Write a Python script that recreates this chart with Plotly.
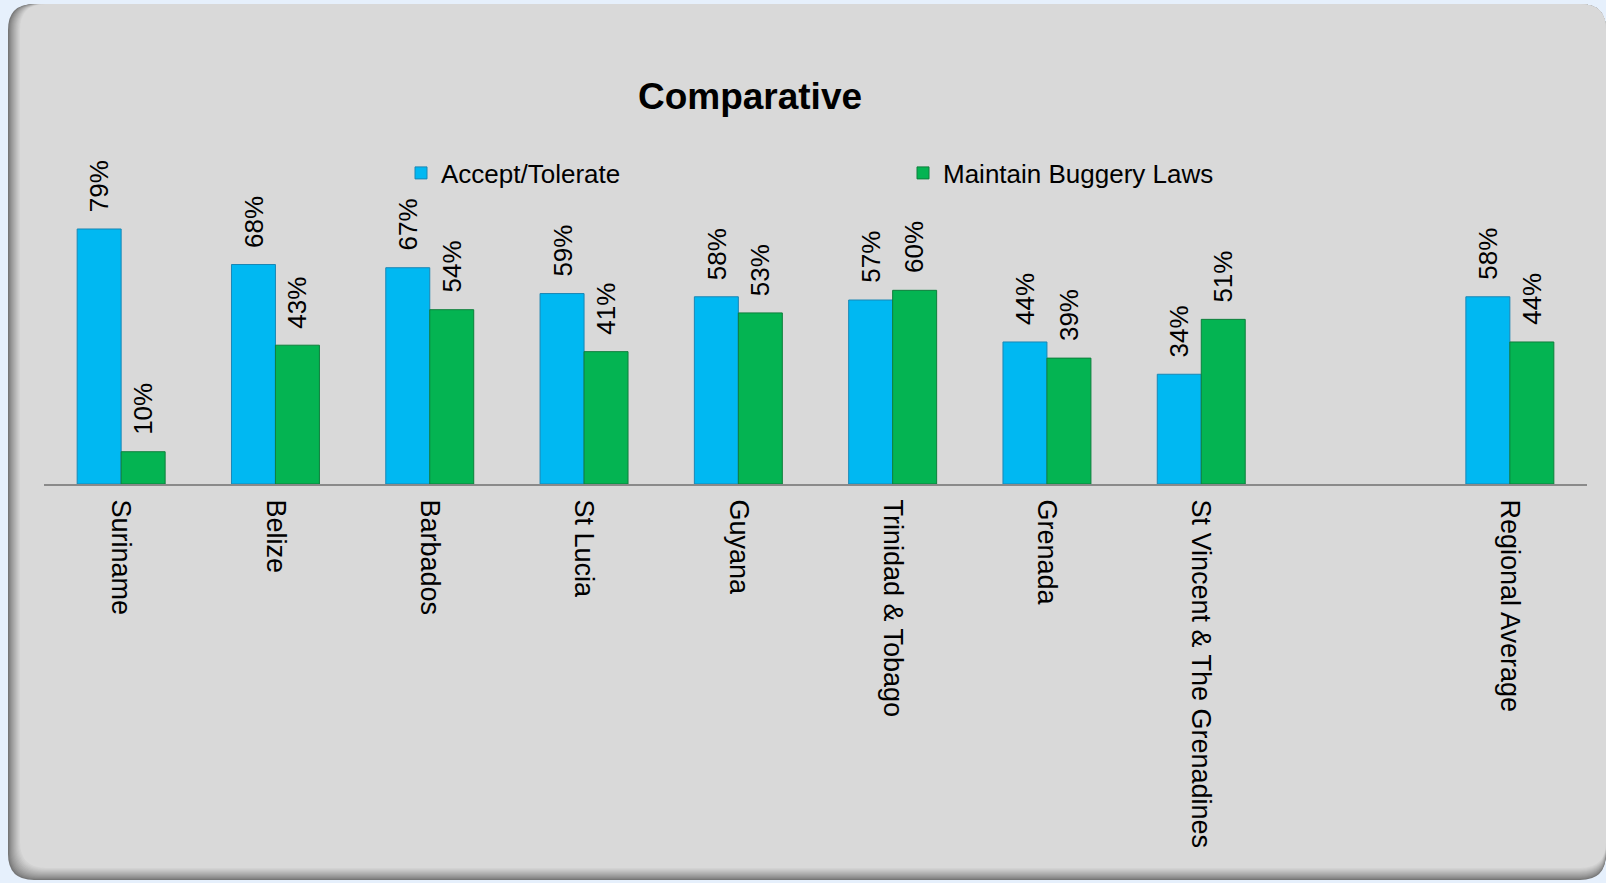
import plotly.graph_objects as go

# data
categories = ["Suriname", "Belize", "Barbados", "St Lucia", "Guyana",
              "Trinidad & Tobago", "Grenada", "St Vincent & The Grenadines",
              " ", "Regional Average"]
accept_tolerate = [79, 68, 67, 59, 58, 57, 44, 34, None, 58]
maintain_laws = [10, 43, 54, 41, 53, 60, 39, 51, None, 44]
series_names = ["Accept/Tolerate", "Maintain Buggery Laws"]

W, H = 1606, 883
L, R, T, B = 44, 19, 150, 399
PW, PH = W - L - R, H - T - B

BLUE, BLUE_EDGE = "#00B8F2", "#1A86B4"
GREEN, GREEN_EDGE = "#04B452", "#0E7F3C"
FONT = "Arial, Liberation Sans, sans-serif"


def px_to_paper(px, py):
    return (px - L) / PW, (H - B - py) / PH


def rounded_rect(x0, y0, x1, y1, r):
    """SVG path (paper units) for a rounded rectangle given in pixels."""
    pts = []

    def p(x, y):
        xp, yp = px_to_paper(x, y)
        return f"{xp:.5f},{yp:.5f}"

    pts.append("M" + p(x0 + r, y0))
    pts.append("L" + p(x1 - r, y0))
    pts.append("Q" + p(x1, y0) + " " + p(x1, y0 + r))
    pts.append("L" + p(x1, y1 - r))
    pts.append("Q" + p(x1, y1) + " " + p(x1 - r, y1))
    pts.append("L" + p(x0 + r, y1))
    pts.append("Q" + p(x0, y1) + " " + p(x0, y1 - r))
    pts.append("L" + p(x0, y0 + r))
    pts.append("Q" + p(x0, y0) + " " + p(x0 + r, y0))
    return " ".join(pts) + " Z"


def lerp_gray(a, b, t):
    v = int(round(a + (b - a) * t))
    return f"rgb({v},{v},{v})"


# panel with a soft shadow on the left and bottom edges
shapes = []
steps = 12
for i in range(steps + 1):
    t = i / steps
    shapes.append(dict(
        type="path", xref="paper", yref="paper", layer="below",
        path=rounded_rect(8 + i * 1.0, 4, 1606, 880 - i * 1.0, 26),
        fillcolor=lerp_gray(118, 217, t ** 0.8), line=dict(width=0),
    ))

fig = go.Figure()
fig.add_trace(go.Bar(
    x=categories, y=accept_tolerate, name=series_names[0],
    marker=dict(color=BLUE, line=dict(color=BLUE_EDGE, width=1)),
))
fig.add_trace(go.Bar(
    x=categories, y=maintain_laws, name=series_names[1],
    marker=dict(color=GREEN, line=dict(color=GREEN_EDGE, width=1)),
))

# rotated value labels above each bar
annotations = []
for vals, shift in [(accept_tolerate, -22), (maintain_laws, 22)]:
    for cat, v in zip(categories, vals):
        if v is None:
            continue
        annotations.append(dict(
            x=cat, y=v, xref="x", yref="y", text=f"{v}%",
            showarrow=False, textangle=-90, xanchor="center", yanchor="bottom",
            xshift=shift, yshift=15, font=dict(family=FONT, size=26, color="#000000"),
        ))

fig.update_layout(
    width=W, height=H,
    margin=dict(l=L, r=R, t=T, b=B),
    paper_bgcolor="#E6F0FC",
    plot_bgcolor="rgba(0,0,0,0)",
    barmode="group", bargap=0.43, bargroupgap=0,
    shapes=shapes,
    annotations=annotations,
    title=dict(
        text="<b>Comparative</b>", x=750 / W, xref="container", xanchor="center",
        y=1 - 96 / H, yref="container", yanchor="middle",
        font=dict(family=FONT, size=37, color="#000000"),
    ),
    legend=dict(
        orientation="h", x=(401 - L) / PW, xanchor="left",
        y=(H - B - 173) / PH, yanchor="middle",
        entrywidth=457, entrywidthmode="pixels",
        font=dict(family=FONT, size=26, color="#000000"),
        bgcolor="rgba(0,0,0,0)",
    ),
    xaxis=dict(
        type="category", showline=True, linecolor="#8A8A8A", linewidth=2,
        ticks="", tickangle=90, ticklabelstandoff=8, showgrid=False,
        tickfont=dict(family=FONT, size=27, color="#000000"),
    ),
    yaxis=dict(
        range=[0, PH / 3.228], visible=False, showgrid=False, zeroline=False,
    ),
    font=dict(family=FONT),
)

# drop the browser's default body margin so the figure sits at the page corner
fig.write_html(
    "out.html",
    config={"displayModeBar": False},
    post_script="document.body.style.margin='0';",
)
